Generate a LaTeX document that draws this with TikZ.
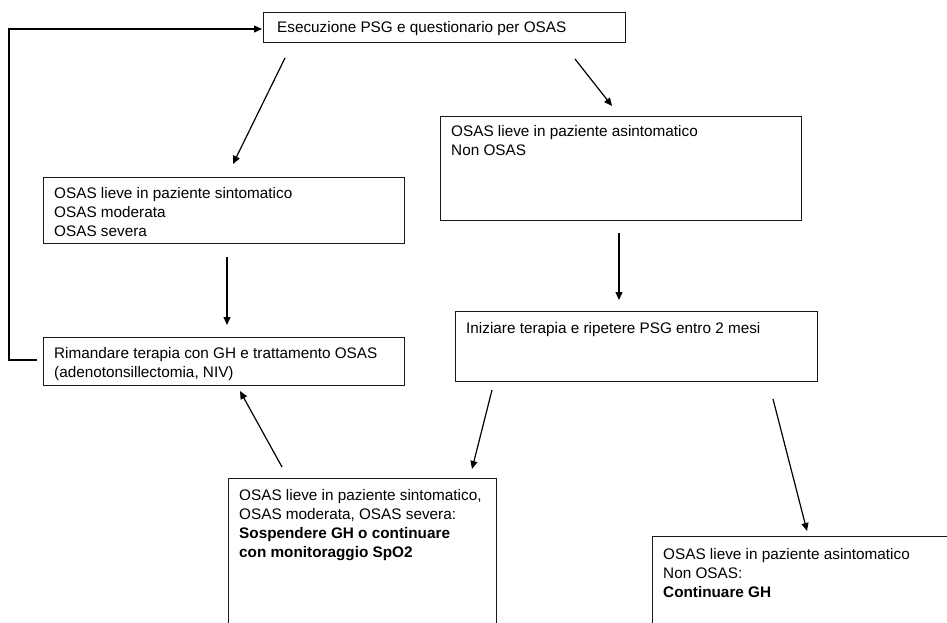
\documentclass[tikz,border=0pt]{standalone}
\usepackage{fontspec}
\setmainfont{Liberation Sans}
\usetikzlibrary{arrows.meta}
\tikzset{
  box/.style={draw=black!90, line width=1.4pt, rectangle, inner sep=0pt, anchor=north west},
  txt/.style={inner sep=0pt, anchor=north west, align=left, font=\fontsize{15.3}{19}\selectfont},
  conn/.style={draw=black, line width=1.2pt, -{Triangle[length=8pt,width=7pt]}}
}
\begin{document}
\begin{tikzpicture}[x=1pt,y=-1pt]
\useasboundingbox (0,0) rectangle (947,623);
\fill[white] (0,0) rectangle (947,623);
\begin{scope}
\clip (0,0) rectangle (947,623);
% boxes
\node[box, minimum width=362pt, minimum height=30pt] (n1) at (263,12) {};
\node[box, minimum width=361pt, minimum height=66pt] (n2) at (43,177) {};
\node[box, minimum width=361pt, minimum height=104pt] (n3) at (440,116) {};
\node[box, minimum width=361pt, minimum height=48pt] (n4) at (43,337) {};
\node[box, minimum width=362pt, minimum height=70pt] (n5) at (455,311) {};
\node[box, minimum width=268pt, minimum height=170pt] (n6) at (228,478) {};
\node[box, minimum width=320pt, minimum height=120pt] (n7) at (652,536) {};
% texts
\node[txt] (t1) at (277,19) {\strut Esecuzione PSG e questionario per OSAS};
\node[txt] (t2) at (54,185) {\strut OSAS lieve in paziente sintomatico\\OSAS moderata\\OSAS severa};
\node[txt] (t3) at (451,123) {\strut OSAS lieve in paziente asintomatico\\Non OSAS};
\node[txt] (t4) at (54,345) {\strut Rimandare terapia con GH e trattamento OSAS\\(adenotonsillectomia, NIV)};
\node[txt] (t5) at (466,320) {\strut Iniziare terapia e ripetere PSG entro 2 mesi};
\node[txt] (t6) at (239,487) {\strut OSAS lieve in paziente sintomatico,\\OSAS moderata, OSAS severa:\\\textbf{Sospendere GH o continuare}\\\textbf{con monitoraggio SpO2}};
\node[txt] (t7) at (663,546) {\strut OSAS lieve in paziente asintomatico\\Non OSAS:\\\textbf{Continuare GH}};
% connector ends
\coordinate (a1s) at (285,58);  \coordinate (a1e) at (233,164);
\coordinate (a2s) at (575,59);  \coordinate (a2e) at (612,106);
\coordinate (a3s) at (227,257); \coordinate (a3e) at (227,325);
\coordinate (a4s) at (619,233); \coordinate (a4e) at (619,300);
\coordinate (a5s) at (282,467); \coordinate (a5e) at (240,391);
\coordinate (a6s) at (492,390); \coordinate (a6e) at (472,469);
\coordinate (a7s) at (773,399); \coordinate (a7e) at (807,531);
\coordinate (fb1) at (37,360);
\coordinate (fb2) at (9,360);
\coordinate (fb3) at (9,29);
\coordinate (fb4) at (262,29);
% connectors
\draw[conn] (a1s) -- (a1e);
\draw[conn] (a2s) -- (a2e);
\draw[conn] (a3s) -- (a3e);
\draw[conn] (a4s) -- (a4e);
\draw[conn] (a5s) -- (a5e);
\draw[conn] (a6s) -- (a6e);
\draw[conn] (a7s) -- (a7e);
\draw[conn] (fb1) -- (fb2) -- (fb3) -- (fb4);
\end{scope}
\end{tikzpicture}
\end{document}
